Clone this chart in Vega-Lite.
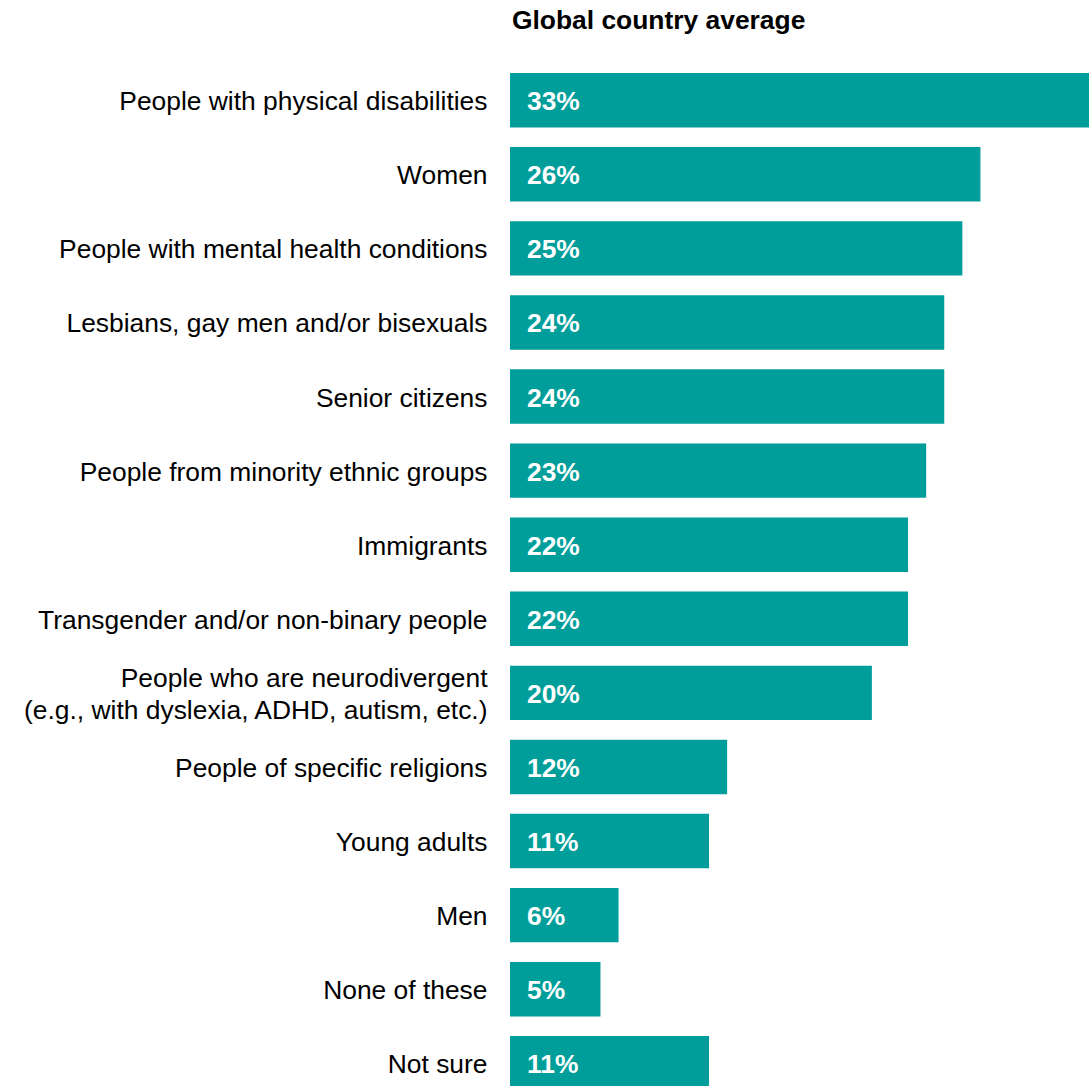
{
  "$schema": "https://vega.github.io/schema/vega-lite/v6.json",
  "autosize": "none",
  "width": 579,
  "height": 1022.8,
  "padding": {"left": 510, "top": 63.2, "right": 0, "bottom": 0},
  "background": "white",
  "config": {"view": {"stroke": null}, "font": "Liberation Sans"},
  "title": {
    "text": "Global country average",
    "anchor": "start",
    "frame": "group",
    "font": "Liberation Sans",
    "fontSize": 26.4,
    "fontWeight": "bold",
    "color": "black",
    "offset": 29,
    "dx": 2
  },
  "data": {
    "values": [
      {"group": "People with physical disabilities", "value": 0.33},
      {"group": "Women", "value": 0.26},
      {"group": "People with mental health conditions", "value": 0.25},
      {"group": "Lesbians, gay men and/or bisexuals", "value": 0.24},
      {"group": "Senior citizens", "value": 0.24},
      {"group": "People from minority ethnic groups", "value": 0.23},
      {"group": "Immigrants", "value": 0.22},
      {"group": "Transgender and/or non-binary people", "value": 0.22},
      {"group": "People who are neurodivergent|(e.g., with dyslexia, ADHD, autism, etc.)", "value": 0.20},
      {"group": "People of specific religions", "value": 0.12},
      {"group": "Young adults", "value": 0.11},
      {"group": "Men", "value": 0.06},
      {"group": "None of these", "value": 0.05},
      {"group": "Not sure", "value": 0.11}
    ]
  },
  "encoding": {
    "y": {
      "field": "group",
      "type": "nominal",
      "sort": null,
      "scale": {"range": [0, 1037.1], "paddingInner": 0.265, "paddingOuter": 0.1325},
      "axis": {
        "title": null,
        "ticks": false,
        "domain": false,
        "labelPadding": 23,
        "labelFont": "Liberation Sans",
        "labelFontSize": 26.4,
        "labelColor": "black",
        "labelLimit": 600,
        "labelLineHeight": 32,
        "labelOffset": {"condition": {"test": "indexof(datum.value, '|') >= 0", "value": -14}, "value": 2},
        "labelExpr": "split(datum.label, '|')"
      }
    }
  },
  "layer": [
    {
      "mark": {"type": "bar", "color": "#009E9A"},
      "encoding": {
        "x": {
          "field": "value",
          "type": "quantitative",
          "scale": {"domain": [0, 0.32], "nice": false, "zero": true},
          "axis": null
        }
      }
    },
    {
      "mark": {
        "type": "text",
        "align": "left",
        "baseline": "middle",
        "dx": 17,
        "dy": 2,
        "font": "Liberation Sans",
        "fontSize": 26.4,
        "fontWeight": "bold",
        "color": "white"
      },
      "encoding": {
        "x": {"datum": 0, "type": "quantitative"},
        "text": {"field": "value", "type": "quantitative", "format": ".0%"}
      }
    }
  ]
}
